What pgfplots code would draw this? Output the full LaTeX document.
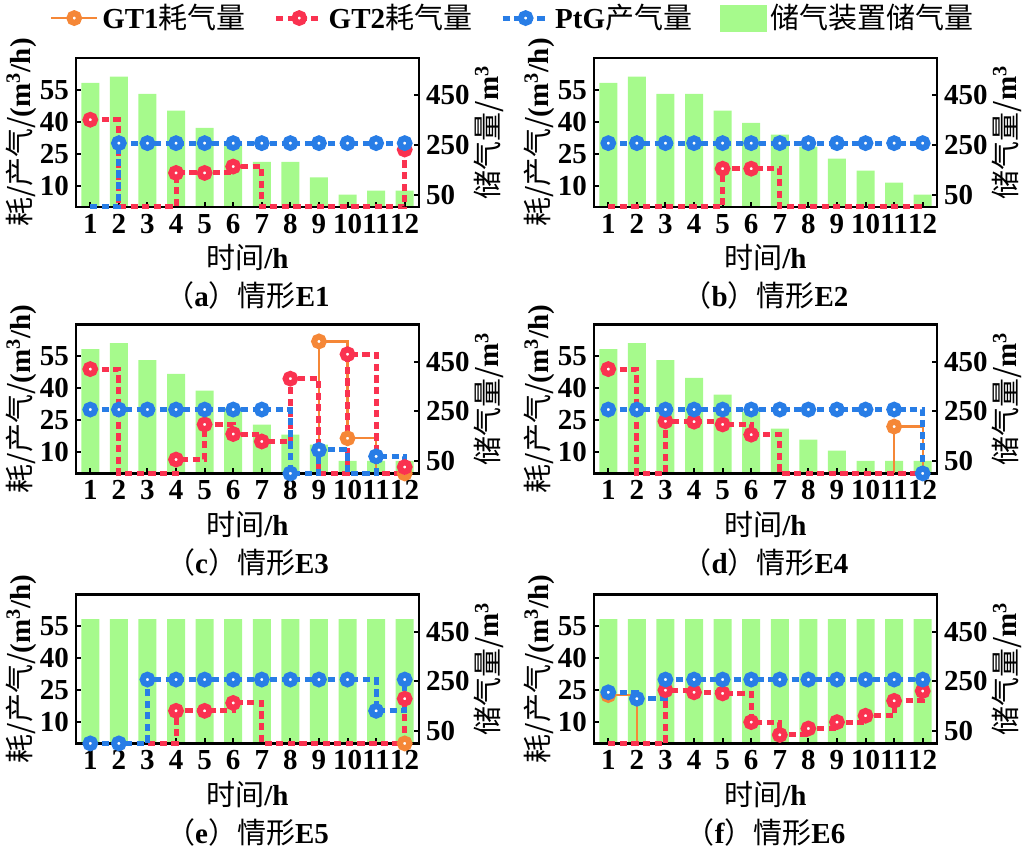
\documentclass[border=0pt]{standalone}
\usepackage{fontspec}
\setmainfont{Liberation Serif}
\newfontfamily\cjkf{Noto Sans CJK SC}
\newcommand{\cjk}{\cjkf\mdseries}
\usepackage{pgfplots}
\pgfplotsset{compat=1.18}

\definecolor{cgt1}{RGB}{245,135,55}
\definecolor{cgt2}{RGB}{250,50,80}
\definecolor{cptg}{RGB}{40,125,230}
\definecolor{cbar}{RGB}{166,250,140}

\newcommand{\fs}{\fontsize{14.5}{16}\selectfont\bfseries}

\pgfplotsset{
  base/.style={scale only axis, width=171.5pt, height=74.5pt,
    xmin=0.5, xmax=12.5, clip=false, anchor=north west,
    tick align=inside, major tick length=2.5pt,
    every tick/.append style={black, line width=1pt},
    tick label style={font=\fs}, label style={font=\fs},
    axis line style={line width=1.3pt},
    /pgf/number format/assume math mode=true},
  lax/.style={base, ymin=0, ymax=70, xtick={1,...,12}, ytick={10,25,40,55},
    xtick pos=bottom, ytick pos=left,
    xlabel={{\cjk 时间}/h},
    ylabel={{\cjk 耗/产气/}(m\textsuperscript{3}/h)},
    xlabel style={at={(axis description cs:0.5,-0.34)}, anchor=center},
    ylabel style={at={(axis description cs:-0.16,0.5)}, anchor=center}},
  rax/.style={base, ymin=0, ymax=600, ytick={50,250,450},
    axis y line*=right, axis x line=none,
    ylabel={{\cjk 储气量/}m\textsuperscript{3}},
    ylabel style={at={(axis description cs:1.205,0.5)}, anchor=center}},
  bars/.style={ybar, bar width=0.63, fill=cbar, draw=none, forget plot},
  gt1/.style={color=cgt1, line width=1.1pt, const plot, no marks, forget plot},
  gt2/.style={color=cgt2, line width=2.5pt, const plot, no marks,
    dash pattern=on 3.6pt off 2.2pt, forget plot},
  ptg/.style={color=cptg, line width=2.5pt, const plot, no marks,
    dash pattern=on 3.6pt off 2.2pt, forget plot},
  mk/.style={only marks, mark=*, mark size=2.4pt,
    mark options={solid, fill=white, line width=3pt}},
}

\newcommand{\pcap}[2]{\node[font=\fs] at (axis description cs:0.5,-0.597)
  {{\cjk （}#1{\cjk ）情形}E#2};}

\begin{document}
\begin{tikzpicture}
\useasboundingbox (0,0) rectangle (514pt,-424.5pt);

% ---------- (a) ----------
\begin{axis}[rax, at={(38pt,-29pt)}]
\addplot[bars] coordinates {(1,500)(2,525)(3,456)(4,388)(5,319)(6,255)(7,182)(8,182)(9,119)(10,50)(11,66)(12,66)};
\end{axis}
\begin{axis}[lax, at={(38pt,-29pt)},
  legend columns=4,
  legend style={at={(1.277,1.268)}, anchor=center, draw=none, fill=none, font=\fs,
    /tikz/every even column/.append style={column sep=12pt}},
  legend image code/.code={\draw[mark repeat=2,mark phase=2] plot coordinates {(0pt,0pt) (11.5pt,0pt) (23pt,0pt)};}]
\addlegendimage{color=cgt1, line width=1.1pt, mark=*, mark size=2.4pt, mark options={solid, fill=white, line width=3pt}}
\addlegendentry{GT1{\cjk 耗气量}}
\addlegendimage{color=cgt2, line width=2.5pt, dash pattern=on 3.6pt off 2.2pt, mark=*, mark size=2.4pt, mark options={solid, fill=white, line width=3pt}}
\addlegendentry{GT2{\cjk 耗气量}}
\addlegendimage{color=cptg, line width=2.5pt, dash pattern=on 3.6pt off 2.2pt, mark=*, mark size=2.4pt, mark options={solid, fill=white, line width=3pt}}
\addlegendentry{PtG{\cjk 产气量}}
\addlegendimage{legend image code/.code={\fill[cbar] (0pt,-6.5pt) rectangle (23pt,6.5pt);}}
\addlegendentry{{\cjk 储气装置储气量}}
\addplot[gt2] coordinates {(1,41)(2,0)(3,0)(4,16)(5,16)(6,19)(7,0)(8,0)(9,0)(10,0)(11,0)(12,27)};
\addplot[gt2, mk] coordinates {(1,41)(4,16)(5,16)(6,19)(12,27)};
\addplot[ptg] coordinates {(1,0)(2,30)(3,30)(4,30)(5,30)(6,30)(7,30)(8,30)(9,30)(10,30)(11,30)(12,30)};
\addplot[ptg, mk] coordinates {(2,30)(3,30)(4,30)(5,30)(6,30)(7,30)(8,30)(9,30)(10,30)(11,30)(12,30)};
\pcap{a}{1}
\end{axis}

% ---------- (b) ----------
\begin{axis}[rax, at={(297pt,-29pt)}]
\addplot[bars] coordinates {(1,500)(2,525)(3,456)(4,456)(5,388)(6,339)(7,291)(8,243)(9,195)(10,146)(11,98)(12,50)};
\end{axis}
\begin{axis}[lax, at={(297pt,-29pt)}]
\addplot[gt2] coordinates {(1,0)(2,0)(3,0)(4,0)(5,18)(6,18)(7,0)(8,0)(9,0)(10,0)(11,0)(12,0)};
\addplot[gt2, mk] coordinates {(5,18)(6,18)};
\addplot[ptg] coordinates {(1,30)(2,30)(3,30)(4,30)(5,30)(6,30)(7,30)(8,30)(9,30)(10,30)(11,30)(12,30)};
\addplot[ptg, mk] coordinates {(1,30)(2,30)(3,30)(4,30)(5,30)(6,30)(7,30)(8,30)(9,30)(10,30)(11,30)(12,30)};
\pcap{b}{2}
\end{axis}

% ---------- (c) ----------
\begin{axis}[rax, at={(38pt,-162.2pt)}]
\addplot[bars] coordinates {(1,500)(2,525)(3,456)(4,401)(5,333)(6,265)(7,196)(8,156)(9,116)(10,50)(11,50)(12,50)};
\end{axis}
\begin{axis}[lax, at={(38pt,-162.2pt)}]
\addplot[gt1] coordinates {(9,0)(9,62)(10,16.5)(11,0)};
\addplot[gt1, mk] coordinates {(9,62)(10,16.5)(12,0)};
\addplot[gt2] coordinates {(1,49)(2,0)(3,0)(4,6.5)(5,23)(6,18.5)(7,15)(8,44.5)(9,0)(10,56)(11,0)(12,3)};
\addplot[gt2, mk] coordinates {(1,49)(4,6.5)(5,23)(6,18.5)(7,15)(8,44.5)(10,56)(12,3)};
\addplot[ptg] coordinates {(1,30)(2,30)(3,30)(4,30)(5,30)(6,30)(7,30)(8,0)(9,11)(10,0)(11,8)(12,4)};
\addplot[ptg, mk] coordinates {(1,30)(2,30)(3,30)(4,30)(5,30)(6,30)(7,30)(8,0)(9,11)(11,8)};
\pcap{c}{3}
\end{axis}

% ---------- (d) ----------
\begin{axis}[rax, at={(297pt,-162.2pt)}]
\addplot[bars] coordinates {(1,500)(2,525)(3,456)(4,385)(5,317)(6,249)(7,180)(8,136)(9,92)(10,50)(11,50)(12,50)};
\end{axis}
\begin{axis}[lax, at={(297pt,-162.2pt)}]
\addplot[gt1] coordinates {(11,0)(11,22)(12,0)};
\addplot[gt1, mk] coordinates {(11,22)};
\addplot[gt2] coordinates {(1,49)(2,0)(3,24.5)(4,24.3)(5,23)(6,18.2)(7,0)(8,0)(9,0)(10,0)(11,0)(12,0)};
\addplot[gt2, mk] coordinates {(1,49)(3,24.5)(4,24.3)(5,23)(6,18.2)};
\addplot[ptg] coordinates {(1,30)(2,30)(3,30)(4,30)(5,30)(6,30)(7,30)(8,30)(9,30)(10,30)(11,30)(12,0)};
\addplot[ptg, mk] coordinates {(1,30)(2,30)(3,30)(4,30)(5,30)(6,30)(7,30)(8,30)(9,30)(10,30)(11,30)(12,0)};
\pcap{d}{4}
\end{axis}

% ---------- (e) ----------
\begin{axis}[rax, at={(38pt,-297.2pt)}]
\addplot[bars] coordinates {(1,500)(2,500)(3,500)(4,500)(5,500)(6,500)(7,500)(8,500)(9,500)(10,500)(11,500)(12,500)};
\end{axis}
\begin{axis}[lax, at={(38pt,-297.2pt)}]
\addplot[gt1, mk] coordinates {(12,0)};
\addplot[gt2] coordinates {(1,0)(2,0)(3,0)(4,15.3)(5,15.3)(6,19)(7,0)(8,0)(9,0)(10,0)(11,0)(12,21)};
\addplot[gt2, mk] coordinates {(4,15.3)(5,15.3)(6,19)(12,21)};
\addplot[ptg] coordinates {(1,0)(2,0)(3,30)(4,30)(5,30)(6,30)(7,30)(8,30)(9,30)(10,30)(11,15.3)(12,30)};
\addplot[ptg, mk] coordinates {(1,0)(2,0)(3,30)(4,30)(5,30)(6,30)(7,30)(8,30)(9,30)(10,30)(11,15.3)(12,30)};
\pcap{e}{5}
\end{axis}

% ---------- (f) ----------
\begin{axis}[rax, at={(297pt,-297.2pt)}]
\addplot[bars] coordinates {(1,500)(2,500)(3,500)(4,500)(5,500)(6,500)(7,500)(8,500)(9,500)(10,500)(11,500)(12,500)};
\end{axis}
\begin{axis}[lax, at={(297pt,-297.2pt)}]
\addplot[gt1] coordinates {(1,22.7)(2,0)};
\addplot[gt1, mk] coordinates {(1,22.7)};
\addplot[gt2] coordinates {(1,0)(2,0)(3,25)(4,24)(5,23.5)(6,10)(7,4)(8,7)(9,10)(10,13)(11,20)(12,24.6)};
\addplot[gt2, mk] coordinates {(3,25)(4,24)(5,23.5)(6,10)(7,4)(8,7)(9,10)(10,13)(11,20)(12,24.6)};
\addplot[ptg] coordinates {(1,24)(2,21)(3,30)(4,30)(5,30)(6,30)(7,30)(8,30)(9,30)(10,30)(11,30)(12,30)};
\addplot[ptg, mk] coordinates {(1,24)(2,21)(3,30)(4,30)(5,30)(6,30)(7,30)(8,30)(9,30)(10,30)(11,30)(12,30)};
\pcap{f}{6}
\end{axis}
\end{tikzpicture}
\end{document}
